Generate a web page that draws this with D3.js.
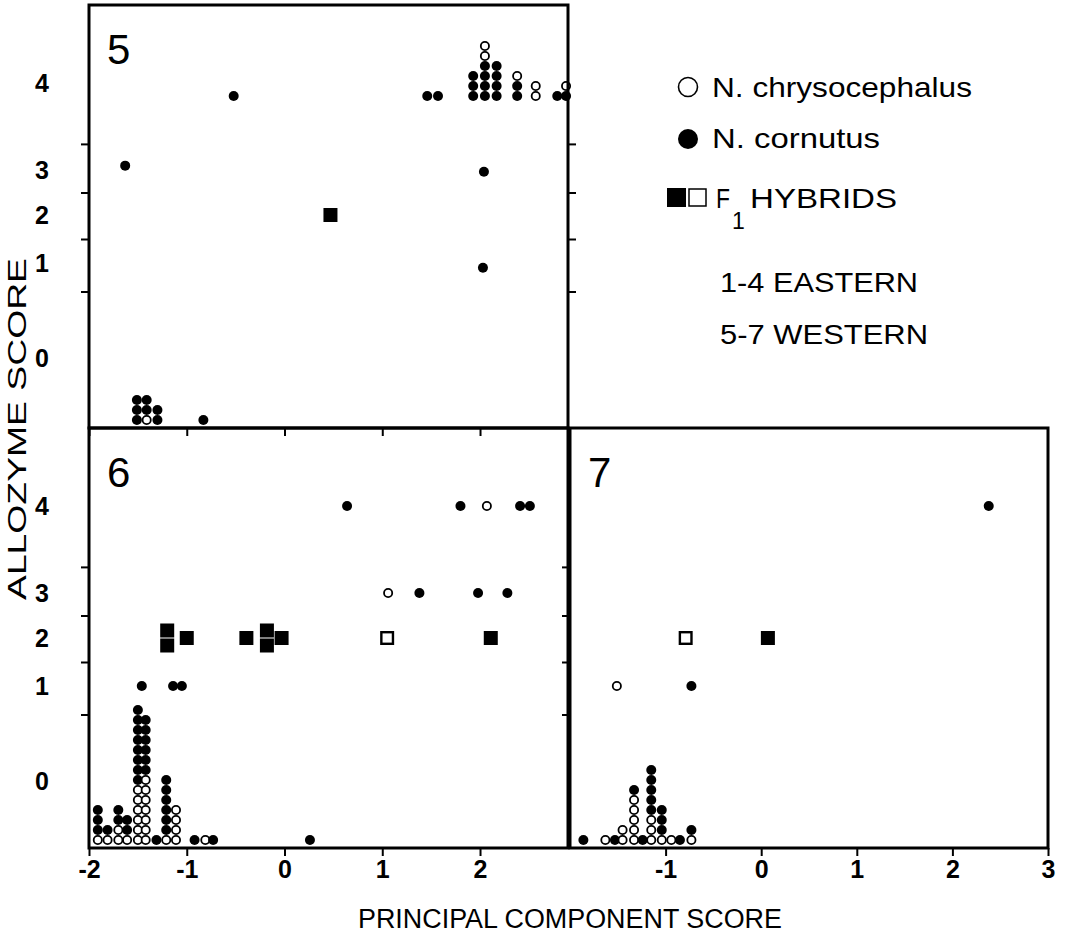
<!DOCTYPE html>
<html>
<head>
<meta charset="utf-8">
<script src="https://cdn.jsdelivr.net/npm/d3@7"></script>
<style>
  body { margin: 0; background: #fff; }
  svg { display: block; font-family: Arial, "Liberation Sans", sans-serif; }
</style>
</head>
<body>
<svg id="chart" width="1074" height="939"></svg>
<script>
// dots: [principal component score, allozyme score, stack bottom->top]
// F = N. cornutus (filled), O = N. chrysocephalus (open); score 0 stacks sit on the floor
const panel5Dots = [
  [-1.63, 3.05, "F"], [-0.52, 3.85, "F"], [1.46, 3.85, "F"], [1.57, 3.85, "F"],
  [1.93, 3.85, "FFF"], [2.05, 3.85, "FFFFOO"], [2.17, 3.85, "FFFF"], [2.38, 3.85, "FFO"],
  [2.57, 3.85, "OO"], [2.79, 3.85, "F"], [2.88, 3.85, "FO"],
  [2.04, 2.96, "F"], [2.03, 0.95, "F"],
  [-1.51, 0, "FFF"], [-1.41, 0, "OFF"], [-1.30, 0, "FF"], [-0.83, 0, "F"]
];
const panel5Hybrids = [[0.47, 2, "F"]];

const panel6Dots = [
  [0.64, 4, "F"], [1.80, 4, "F"], [2.07, 4, "O"], [2.41, 4, "F"], [2.51, 4, "F"],
  [1.06, 3, "O"], [1.38, 3, "F"], [1.98, 3, "F"], [2.28, 3, "F"],
  [-1.46, 1, "F"], [-1.14, 1, "F"], [-1.05, 1, "F"],
  [-1.91, 0, "OFFF"], [-1.81, 0, "OF"], [-1.70, 0, "OOFF"], [-1.61, 0, "OFF"],
  [-1.50, 0, "OOOOOOFFFFFFFF"], [-1.42, 0, "OOOOOOOFFFFFF"], [-1.31, 0, "F"],
  [-1.21, 0, "OFFFFFF"], [-1.11, 0, "OOOO"], [-0.92, 0, "F"], [-0.81, 0, "O"],
  [-0.73, 0, "F"], [0.26, 0, "F"]
];
const panel6Hybrids = [
  [-1.20, 2, "FF"], [-1.00, 2, "F"], [-0.39, 2, "F"], [-0.18, 2, "FF"],
  [-0.03, 2, "F"], [1.05, 2, "O"], [2.11, 2, "F"]
];

const panel7Dots = [
  [2.38, 4, "F"], [-1.51, 1, "O"], [-0.73, 1, "F"],
  [-1.86, 0, "F"], [-1.63, 0, "O"], [-1.53, 0, "F"], [-1.45, 0, "OO"],
  [-1.33, 0, "OOOOOF"], [-1.24, 0, "F"], [-1.15, 0, "OOOFFFFF"], [-1.04, 0, "OFFF"],
  [-0.94, 0, "O"], [-0.85, 0, "F"], [-0.73, 0, "OF"]
];
const panel7Hybrids = [[-0.79, 2, "O"], [0.07, 2, "F"]];

const yLabels = [0, 1, 2, 3, 4];
const yTickEdges = [0.7, 1.5, 2.5, 3.3];
const xTicksLeft = [-2, -1, 0, 1, 2];
const xTicksRight = [-1, 0, 1, 2, 3];

const settings = {
  dotRadius: 5,
  dotStep: 10,
  squareSize: 14,
  squareStep: 15,
  tickSize: 8,
  frameWidth: 3,
  tickFont: 25
};

const svg = d3.select("#chart");

const panels = [
  { name: "5", left: 89, top: 5, width: 479, height: 423, xDomain: [-2, 2.9],
    dots: panel5Dots, hybrids: panel5Hybrids, xTicks: xTicksLeft, xLabels: false,
    yLabels: true, rightTicks: true },
  { name: "6", left: 89, top: 428, width: 479, height: 420, xDomain: [-2, 2.9],
    dots: panel6Dots, hybrids: panel6Hybrids, xTicks: xTicksLeft, xLabels: true,
    yLabels: true, rightTicks: false },
  { name: "7", left: 570, top: 428, width: 478, height: 420, xDomain: [-2, 3],
    dots: panel7Dots, hybrids: panel7Hybrids, xTicks: xTicksRight, xLabels: true,
    yLabels: false, rightTicks: false }
];

// piecewise scale: the allozyme bands are not evenly spaced in the original
const makeY = () => d3.scaleLinear()
  .domain([-0.72, 0, 1, 2, 3, 4, 4.9])
  .range([420, 353, 258, 210, 165, 78, 0]);

const styleTicks = sel => {
  sel.select(".domain").remove();
  sel.selectAll("line").attr("stroke", "#000").attr("stroke-width", 2);
};

panels.forEach(p => {
  const x = d3.scaleLinear().domain(p.xDomain).range([0, p.width]);
  const y = makeY();
  const g = svg.append("g").attr("transform", `translate(${p.left},${p.top})`);

  // x ticks (bottom)
  const xg = g.append("g")
    .attr("transform", `translate(0,${p.height})`)
    .call(d3.axisBottom(x)
      .tickValues(p.xTicks)
      .tickSize(settings.tickSize)
      .tickPadding(4)
      .tickFormat(d => p.xLabels ? String(d) : ""));
  styleTicks(xg);
  xg.selectAll("text")
    .attr("font-size", settings.tickFont).attr("font-weight", "bold")
    .attr("font-family", "Arial, 'Liberation Sans', sans-serif")
    .attr("fill", "#000");

  // y ticks at band edges
  const yg = g.append("g")
    .call(d3.axisLeft(y).tickValues(yTickEdges).tickSize(settings.tickSize).tickFormat(""));
  styleTicks(yg);
  if (p.rightTicks) {
    const yr = g.append("g").attr("transform", `translate(${p.width},0)`)
      .call(d3.axisRight(y).tickValues(yTickEdges).tickSize(settings.tickSize).tickFormat(""));
    styleTicks(yr);
  }
  if (p.yLabels) {
    g.selectAll(".ylab").data(yLabels).enter().append("text")
      .attr("class", "ylab")
      .attr("x", 42 - p.left)
      .attr("y", d => y(d))
      .attr("dy", "0.36em")
      .attr("text-anchor", "middle")
      .attr("font-size", settings.tickFont).attr("font-weight", "bold")
      .text(d => d);
  }

  // expand stacks into single marks
  const dotMarks = [];
  p.dots.forEach(([xv, score, stack]) => {
    stack.split("").forEach((kind, i) => {
      const base = score === 0 ? p.height - settings.dotRadius - 3 : y(score);
      dotMarks.push({ cx: x(xv), cy: base - i * settings.dotStep, kind });
    });
  });
  const squareMarks = [];
  p.hybrids.forEach(([xv, score, stack]) => {
    const n = stack.length;
    stack.split("").forEach((kind, i) => {
      squareMarks.push({ cx: x(xv), cy: y(score) - (i - (n - 1) / 2) * settings.squareStep, kind });
    });
  });

  g.selectAll(".dot").data(dotMarks).enter().append("circle")
    .attr("class", "dot")
    .attr("cx", d => d.cx)
    .attr("cy", d => d.cy)
    .attr("r", d => d.kind === "F" ? settings.dotRadius : settings.dotRadius - 0.9)
    .attr("fill", d => d.kind === "F" ? "#000" : "#fff")
    .attr("stroke", "#000")
    .attr("stroke-width", d => d.kind === "F" ? 0 : 1.8);

  const s = settings.squareSize;
  g.selectAll(".hyb").data(squareMarks).enter().append("rect")
    .attr("class", "hyb")
    .attr("x", d => d.kind === "F" ? d.cx - s / 2 : d.cx - s / 2 + 1.2)
    .attr("y", d => d.kind === "F" ? d.cy - s / 2 : d.cy - s / 2 + 1.2)
    .attr("width", d => d.kind === "F" ? s : s - 2.4)
    .attr("height", d => d.kind === "F" ? s : s - 2.4)
    .attr("fill", d => d.kind === "F" ? "#000" : "#fff")
    .attr("stroke", "#000")
    .attr("stroke-width", d => d.kind === "F" ? 0 : 2.4);

  // frame
  g.append("rect")
    .attr("width", p.width).attr("height", p.height)
    .attr("fill", "none").attr("stroke", "#000")
    .attr("stroke-width", settings.frameWidth);

  g.append("text")
    .attr("x", 18).attr("y", 59)
    .attr("font-size", 42)
    .text(p.name);
});

// axis titles (the scan is wider than Arial, so lengths are pinned)
svg.append("text")
  .attr("transform", "translate(26,429) rotate(-90)")
  .attr("text-anchor", "middle")
  .attr("font-size", 26)
  .attr("textLength", 342).attr("lengthAdjust", "spacingAndGlyphs")
  .text("ALLOZYME SCORE");

svg.append("text")
  .attr("x", 570).attr("y", 928)
  .attr("text-anchor", "middle")
  .attr("font-size", 27)
  .attr("textLength", 424).attr("lengthAdjust", "spacingAndGlyphs")
  .text("PRINCIPAL COMPONENT SCORE");

// legend
const legendItems = [
  { text: "N. chrysocephalus", x: 712, y: 97, len: 260 },
  { text: "N. cornutus", x: 712, y: 148, len: 168 },
  { text: "HYBRIDS", x: 750, y: 208, len: 147 },
  { text: "1-4 EASTERN", x: 720, y: 292, len: 198 },
  { text: "5-7 WESTERN", x: 720, y: 344, len: 208 }
];
const legend = svg.append("g").attr("font-size", 28);
legend.append("circle").attr("cx", 688).attr("cy", 87).attr("r", 9.5)
  .attr("fill", "#fff").attr("stroke", "#000").attr("stroke-width", 1.6);
legend.append("circle").attr("cx", 688).attr("cy", 139).attr("r", 10).attr("fill", "#000");
legend.append("rect").attr("x", 667).attr("y", 188).attr("width", 19).attr("height", 19).attr("fill", "#000");
legend.append("rect").attr("x", 689).attr("y", 189).attr("width", 17).attr("height", 17)
  .attr("fill", "#fff").attr("stroke", "#000").attr("stroke-width", 1.5);
legend.selectAll(".item").data(legendItems).enter().append("text")
  .attr("class", "item")
  .attr("x", d => d.x).attr("y", d => d.y)
  .attr("textLength", d => d.len).attr("lengthAdjust", "spacingAndGlyphs")
  .text(d => d.text);
legend.append("text").attr("x", 716).attr("y", 208)
  .attr("textLength", 14).attr("lengthAdjust", "spacingAndGlyphs").text("F");
legend.append("text").attr("x", 732).attr("y", 229).attr("font-size", 23).text("1");
</script>
</body>
</html>
